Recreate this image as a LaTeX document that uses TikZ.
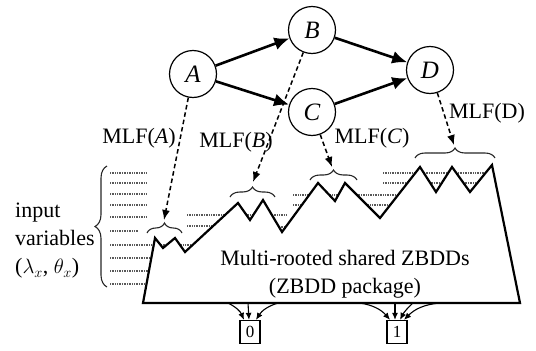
\documentclass[tikz,border=0pt]{standalone}
\usepackage{fontspec}
\setmainfont{Liberation Serif}
\usetikzlibrary{arrows.meta,decorations.pathreplacing}

\begin{document}
\begin{tikzpicture}[
    x=1pt, y=-1pt,
    var/.style={draw, circle, line width=1.2pt, minimum size=47pt, inner sep=0pt, font=\fontsize{25}{28}\selectfont\itshape},
    flow/.style={-{Latex[length=15pt,width=13pt]}, line width=2.6pt},
    mlf/.style={-{Latex[length=10pt,width=8pt]}, line width=1.5pt, dash pattern=on 4.5pt off 3pt},
    lbl/.style={inner sep=0pt, font=\fontsize{22}{28}\selectfont},
    level/.style={black!65, dash pattern=on 1pt off 0.7pt, line width=1.2pt},
    cbrace/.style={decorate, decoration={brace, amplitude=10pt}, line width=1.1pt, black!85},
    term/.style={draw, line width=1.3pt, minimum width=20pt, minimum height=23pt, inner sep=0pt, font=\fontsize{17}{20}\selectfont},
    sink/.style={-{Latex[length=7pt,width=6pt]}, line width=1.1pt}
]
    \useasboundingbox (0,0) rectangle (536,351);

    % Event graph
    \node[var] (A) at (193,74) {A};
    \node[var] (B) at (312,30) {B};
    \node[var] (C) at (312,112) {C};
    \node[var] (D) at (430,70) {D};

    \draw[flow] (A) -- (B);
    \draw[flow] (A) -- (C);
    \draw[flow] (B) -- (D);
    \draw[flow] (C) -- (D);

    % Variable levels
    \foreach \y in {173,183,194,205,217} {
        \draw[level] (110,\y) -- (147,\y);
    }
    \draw[level] (110,231) -- (138,231);
    \draw[level] (110,245) -- (197,245);
    \foreach \y in {258,271,284} {
        \draw[level] (110,\y) -- (155,\y);
    }
    \draw[level] (187,215) -- (287,215);
    \draw[level] (187,226) -- (213,226);
    \draw[level] (262,227) -- (290,227);
    \draw[level] (293,195) -- (400,195);
    \draw[level] (293,205) -- (303,205);
    \draw[level] (365,205) -- (395,205);
    \draw[level] (383,173) -- (490,173);
    \draw[level] (383,183) -- (490,183);

    % Shared ZBDD forest
    \draw[line width=2.2pt, line join=miter, fill=white]
        (143,303) -- (155,238) -- (163,248) -- (175,238) -- (185,252)
        -- (238,203) -- (250,220) -- (263,200) -- (282,232)
        -- (318,183) -- (335,201) -- (345,183) -- (380,218)
        -- (420,167) -- (436,192) -- (452,167) -- (470,192) -- (492,165)
        -- (520,303) -- cycle;
    \node[lbl, align=center] (pkg) at (345,274) {Multi-rooted shared ZBDDs\\(ZBDD package)};

    % Roots of each function
    \draw[cbrace] (147,233) -- (182,233);
    \draw[cbrace] (230,197) -- (275,197);
    \draw[cbrace] (310,180) -- (357,180);
    \draw[cbrace] (415,158) -- (495,158);

    \coordinate (tA) at (164,220);
    \coordinate (tB) at (253,182);
    \coordinate (tC) at (332,167);
    \coordinate (tD) at (454,145);

    \draw[mlf] (A) -- (tA);
    \draw[mlf] (B) -- (tB);
    \draw[mlf] (C) -- (tC);
    \draw[mlf] (D) -- (tD);

    \node[lbl] (mlfA) at (139,138) {MLF(\textit{A})};
    \node[lbl] (mlfB) at (236,142) {MLF(\textit{B})};
    \node[lbl] (mlfC) at (372,138) {MLF(\textit{C})};
    \node[lbl] (mlfD) at (487,113) {MLF(D)};

    % Input variables
    \draw[cbrace, decoration={amplitude=12pt}] (107,287) -- (107,166);
    \node[lbl, align=left, anchor=west] (inp) at (15,241) {input\\variables\\($\lambda_x$, $\theta_x$)};

    % Terminal nodes
    \node[term] (zero) at (250,332) {0};
    \node[term] (one) at (397,332) {1};

    \coordinate (z1) at (228,303);
    \coordinate (z2) at (248,303);
    \coordinate (z3) at (278,303);
    \coordinate (u1) at (360,303);
    \coordinate (u2) at (395,303);
    \coordinate (u3) at (413,303);
    \coordinate (u4) at (440,303);

    \draw[sink] (z1) to[bend left=20] ([xshift=-6pt]zero.north);
    \draw[sink] (z2) -- ([xshift=-1pt]zero.north);
    \draw[sink] (z3) to[bend right=20] ([xshift=6pt]zero.north);
    \draw[sink] (u1) to[bend left=20] ([xshift=-7pt]one.north);
    \draw[sink] (u2) -- ([xshift=-2pt]one.north);
    \draw[sink] (u3) to[bend right=10] ([xshift=3pt]one.north);
    \draw[sink] (u4) to[bend right=20] ([xshift=7pt]one.north);

\end{tikzpicture}
\end{document}
